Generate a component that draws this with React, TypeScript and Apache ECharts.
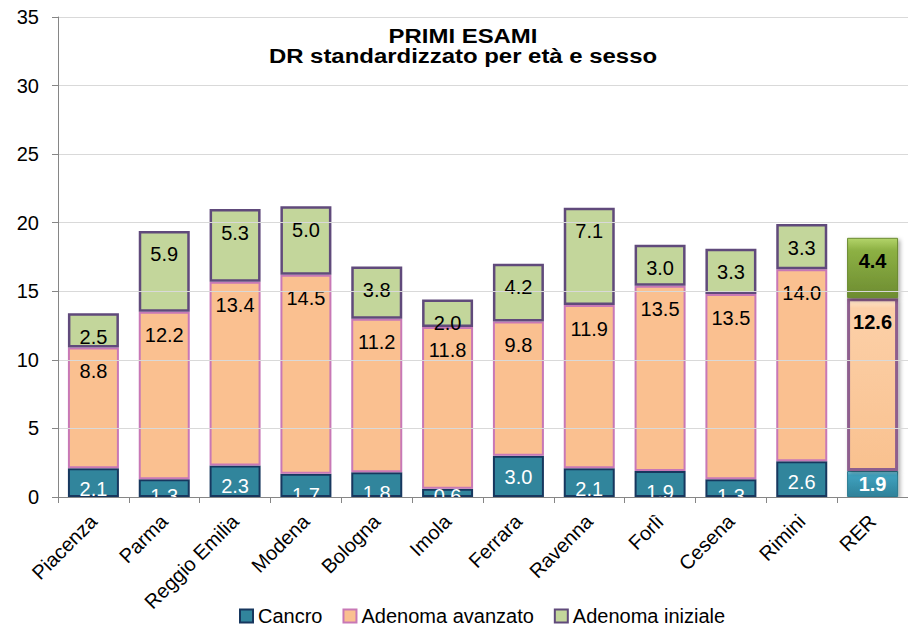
import React, { useEffect, useRef } from "react";
import * as echarts from "echarts";

const categories = ["Piacenza", "Parma", "Reggio Emilia", "Modena", "Bologna", "Imola", "Ferrara", "Ravenna", "Forlì", "Cesena", "Rimini", "RER"];
const cancro = [2.1, 1.3, 2.3, 1.7, 1.8, 0.6, 3.0, 2.1, 1.9, 1.3, 2.6, 1.9];
const avanzato = [8.8, 12.2, 13.4, 14.5, 11.2, 11.8, 9.8, 11.9, 13.5, 13.5, 14.0, 12.6];
const iniziale = [2.5, 5.9, 5.3, 5.0, 3.8, 2.0, 4.2, 7.1, 3.0, 3.3, 3.3, 4.4];
const seriesNames = ["Cancro", "Adenoma avanzato", "Adenoma iniziale"];
const yTicks = { min: 0, max: 35, interval: 5 };
const titleLines = ["PRIMI ESAMI", "DR standardizzato per età e sesso"];

const FONT = "'Liberation Sans', Arial, sans-serif";

function grad(stops: [number, string][]) {
  return new echarts.graphic.LinearGradient(0, 0, 0, 1, stops.map(([offset, color]) => ({ offset, color })));
}

const shadow = { shadowBlur: 4, shadowColor: "rgba(0,0,0,0.35)", shadowOffsetX: 2, shadowOffsetY: 2 };

const special: Record<string, any> = {
  Cancro: {
    itemStyle: { color: grad([[0, "#7FD0E6"], [0.15, "#3FA2BF"], [1, "#2F8199"]]), borderColor: "#2B7A90", borderWidth: 1, ...shadow },
    label: { fontWeight: "bold", color: "#fff", position: "inside" },
  },
  "Adenoma avanzato": {
    itemStyle: { color: grad([[0, "#FEE6CF"], [0.05, "#FCD0A8"], [1, "#F9C18F"]]), borderColor: "#8E5E8E", borderWidth: 3, ...shadow },
    label: { fontWeight: "bold", color: "#000" },
  },
  "Adenoma iniziale": {
    itemStyle: { color: grad([[0, "#B3D46A"], [0.2, "#8DB144"], [1, "#6D8C31"]]), borderColor: "#6A8A30", borderWidth: 1, ...shadow },
    label: { fontWeight: "bold", color: "#000" },
  },
};

const baseStyles: Record<string, any> = {
  Cancro: { color: "#31859C", borderColor: "#17375E", borderWidth: 2, label: "#fff", dist: 11 },
  "Adenoma avanzato": { color: "#FAC090", borderColor: "#C878B6", borderWidth: 2, label: "#000", dist: 13.5 },
  "Adenoma iniziale": { color: "#C3D69B", borderColor: "#604A7B", borderWidth: 2.5, label: "#000", dist: 13.5 },
};

export default function App() {
  const ref = useRef<HTMLDivElement>(null);
  useEffect(() => {
    if (!ref.current) return;
    const chart = echarts.init(ref.current, undefined, { renderer: "svg" });
    const values = [cancro, avanzato, iniziale];
    const plotH = 480;
    const pxPerUnit = plotH / (yTicks.max - yTicks.min);
    const series = seriesNames.map((name, si) => {
      const bs = baseStyles[name];
      return {
        name,
        type: "bar",
        stack: "total",
        barWidth: 51,
        z: 2,
        itemStyle: { color: bs.color, borderColor: bs.borderColor, borderWidth: bs.borderWidth },
        label: {
          show: true,
          position: "insideTop",
          distance: bs.dist,
          fontSize: 20,
          fontFamily: FONT,
          color: bs.label,
          formatter: (p: any) => Number(p.value).toFixed(1),
        },
        data: values[si].map((v, i) => {
          const item: any = { value: v };
          if (categories[i] === "RER") {
            item.itemStyle = special[name].itemStyle;
            item.label = { ...special[name].label };
          } else if (si === 0) {
            // labels of short bottom segments sit near the axis (clipped there, as in the reference)
            const over = 22 - v * pxPerUnit;
            if (over > 0) item.label = { offset: [0, -over] };
          }
          return item;
        }),
      };
    });
    chart.setOption({
      animation: false,
      backgroundColor: "#fff",
      textStyle: { fontFamily: FONT },
      grid: { left: 58, right: -11, top: 17, bottom: 134, containLabel: false },
      graphic: [
        {
          type: "text",
          x: 463,
          y: 25,
          z: 20,
          scaleX: 1.14,
          style: {
            text: titleLines.join("\n"),
            align: "center",
            verticalAlign: "top",
            fontSize: 21,
            fontWeight: "bold",
            lineHeight: 21,
            fontFamily: FONT,
            fill: "#000",
          },
        },
        {
          type: "rect",
          z: 3,
          silent: true,
          shape: { x: 59, y: 498, width: 860, height: 14 },
          style: { fill: "#fff" },
        },
      ],
      legend: {
        data: seriesNames,
        left: 239,
        top: 606,
        padding: 0,
        icon: "rect",
        itemWidth: 13,
        itemHeight: 13,
        itemGap: 20,
        textStyle: { fontSize: 20, color: "#000", fontFamily: FONT },
        itemStyle: { borderWidth: 2 },
      },
      xAxis: {
        type: "category",
        data: categories,
        z: 10,
        axisLine: { lineStyle: { color: "#868686", width: 1 } },
        axisTick: { show: true, length: 6, lineStyle: { color: "#868686" } },
        axisLabel: { rotate: 45, interval: 0, margin: 21, fontSize: 20, color: "#000", fontFamily: FONT },
      },
      yAxis: {
        type: "value",
        min: yTicks.min,
        max: yTicks.max,
        interval: yTicks.interval,
        z: 10,
        axisLine: { show: true, lineStyle: { color: "#868686", width: 1 } },
        axisTick: { show: true, length: 6, lineStyle: { color: "#868686" } },
        axisLabel: { margin: 19, fontSize: 20, color: "#000", fontFamily: FONT, padding: [8, 0, 0, 0] },
        splitLine: { lineStyle: { color: "#D9D9D9", width: 1 } },
      },
      series,
    });
    return () => chart.dispose();
  }, []);
  return <div ref={ref} style={{ width: 908, height: 631, position: "absolute", left: 0, top: 0 }} />;
}
